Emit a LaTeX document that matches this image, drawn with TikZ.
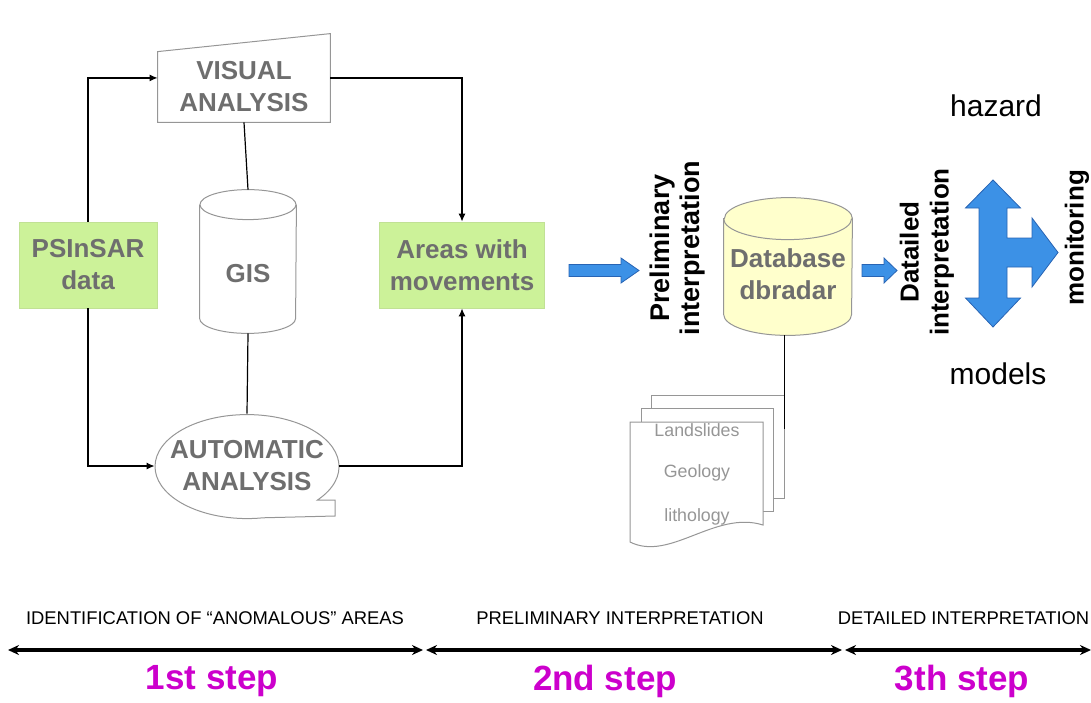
\documentclass[tikz,border=0pt]{standalone}
\usepackage{fontspec}
\setmainfont{Liberation Sans}
\usetikzlibrary{arrows.meta}

\definecolor{boxgreen}{RGB}{204,242,153}
\definecolor{txtgray}{RGB}{110,110,110}
\definecolor{linegray}{RGB}{150,150,150}
\definecolor{pagetxt}{RGB}{150,150,150}
\definecolor{dbyellow}{RGB}{255,255,204}
\definecolor{arrowblue}{RGB}{60,145,230}
\definecolor{arrowedge}{RGB}{40,100,180}
\definecolor{stepmagenta}{RGB}{204,0,204}

\pgfdeclarelayer{background}
\pgfsetlayers{background,main}

\tikzset{
  graylbl/.style={font=\bfseries\fontsize{13}{16}\selectfont,text=txtgray,align=center,inner sep=1pt},
  greenbox/.style={graylbl,rectangle,fill=boxgreen,draw=boxgreen!85!gray},
  outline/.style={draw=linegray,line width=0.5pt},
  link/.style={line width=0.6pt},
  blockarrow/.style={fill=arrowblue,draw=arrowedge,line width=0.4pt}
}

\begin{document}
\begin{tikzpicture}[x=0.5pt,y=0.5pt,>={Latex[length=4pt,width=3.5pt]}]

    \useasboundingbox (0,0) rectangle (1091,-702);

      % first step
      \begin{scope}[every node/.style={graylbl}]
        \node[greenbox,minimum width=69pt,minimum height=43pt] (psinsar) at (88,-265) {PSInSAR\\data};
        \node[greenbox,minimum width=82.5pt,minimum height=43pt] (areas) at (462,-265) {Areas with\\movements};
        \node[minimum width=86pt,minimum height=35pt] (visual) at (244,-87) {VISUAL\\ANALYSIS};
        \node[minimum width=48pt,minimum height=71.5pt] (gis) at (248,-261.5) {\rule{0pt}{21.3pt}GIS};
        \node[minimum width=92pt,minimum height=52pt] (auto) at (247,-466) {AUTOMATIC\\ANALYSIS};
      \end{scope}

      \draw[outline] (visual.south west) -- (visual.south east) -- ([yshift=9pt]visual.north east)
        -- (visual.north west) -- cycle;
      \draw[outline] ([yshift=-7.5pt]gis.north) ellipse[x radius=48,y radius=15];
      \draw[outline] ([yshift=-7.5pt]gis.north west) -- ([yshift=7.5pt]gis.south west)
        arc[start angle=180,end angle=360,x radius=48,y radius=15] -- ([yshift=-7.5pt]gis.north east);
      \draw[outline] ([shift={(88,-34)}]auto.center) -- ++(-17.5,0)
        arc[start angle=-40,end angle=280,x radius=92,y radius=52]
        -- ([shift={(88,-50)}]auto.center) -- cycle;

      \draw[link,->] (psinsar.north) |- (visual.174);
      \draw[link,->] (psinsar.south) |- (auto.west);
      \draw[link,->] (visual.6) -| (areas.north);
      \draw[link,->] (auto.east) -| (areas.south);
      \draw[link] (visual.south) -- (gis.north);
      \draw[link] (gis.south) -- (auto.north);

      % second step
      \draw[blockarrow] (569,-264.5) -- (621,-264.5) -- (621,-258) -- (639,-270.5) -- (621,-283)
        -- (621,-276.5) -- (569,-276.5) -- cycle;
      \node[rotate=90,align=center,font=\bfseries\fontsize{13.5}{15}\selectfont] (prelim) at (678,-248)
        {Preliminary\\interpretation};
      \node[graylbl,minimum width=64pt,minimum height=68.5pt] (db) at (788,-266.5)
        {\rule{0pt}{17pt}Database\\dbradar};
      \begin{pgfonlayer}{background}
        \filldraw[outline,fill=dbyellow] ([yshift=-10.5pt]db.north west) -- ([yshift=10.5pt]db.south west)
          arc[start angle=180,end angle=360,x radius=64,y radius=21] -- ([yshift=-10.5pt]db.north east)
          arc[start angle=0,end angle=180,x radius=64,y radius=21] -- cycle;
        \draw[outline] ([yshift=-10.5pt]db.north west) arc[start angle=180,end angle=360,x radius=64,y radius=21];
      \end{pgfonlayer}

      \begin{scope}[every node/.style={rectangle,outline,fill=white}]
        \node[minimum width=66.5pt,minimum height=51.5pt] (page3) at (717.5,-446.5) {};
        \node[minimum width=66pt,minimum height=51.5pt] (page2) at (707,-459.5) {};
      \end{scope}
      \draw[outline,fill=white] (630,-422) -- (763,-422) -- (763,-525)
        .. controls (715,-510) and (670,-562) .. (630,-542) -- cycle;
      \draw[link] (page3.15) -- (page3.15 |- db.south);

      \begin{scope}[every node/.style={text=pagetxt,font=\fontsize{8.9}{10}\selectfont}]
        \node (landslides) at (697,-430) {Landslides};
        \node (geology) at (697,-473) {Geology};
        \node (lithology) at (697,-517) {lithology};
      \end{scope}

      % third step
      \draw[blockarrow] (862,-264.5) -- (884,-264.5) -- (884,-258) -- (897,-270.5) -- (884,-283)
        -- (884,-276.5) -- (862,-276.5) -- cycle;
      \node[rotate=90,align=center,font=\bfseries\fontsize{13}{15}\selectfont] (detail) at (927,-252)
        {Datailed\\interpretation};
      \draw[blockarrow] (993,-180) -- (1020.5,-208) -- (1007,-208)
        -- (1007,-238) -- (1032,-238) -- (1032,-218) -- (1058,-252.5) -- (1032,-287) -- (1032,-267)
        -- (1007,-267) -- (1007,-298) -- (1020.5,-298) -- (993,-327) -- (965.5,-298) -- (979,-298)
        -- (979,-208) -- (965.5,-208) -- cycle;
      \begin{scope}[every node/.style={font=\fontsize{15}{18}\selectfont}]
        \node (hazard) at (996,-106) {hazard};
        \node (models) at (998,-374) {models};
      \end{scope}
      \node[rotate=90,font=\bfseries\fontsize{13}{15}\selectfont] (monitor) at (1077,-238) {monitoring};

      % steps
      \begin{scope}[every node/.style={font=\fontsize{9.2}{11}\selectfont}]
        \node (phase1) at (215,-618) {IDENTIFICATION OF “ANOMALOUS” AREAS};
        \node (phase2) at (620,-618) {PRELIMINARY INTERPRETATION};
        \node (phase3) at (963.5,-618) {DETAILED INTERPRETATION};
      \end{scope}

      \coordinate (t0) at (8,-650);
      \coordinate (t1) at (423,-650);
      \coordinate (t2) at (426,-650);
      \coordinate (t3) at (842,-650);
      \coordinate (t4) at (845,-650);
      \coordinate (t5) at (1091,-650);
      \begin{scope}[line width=1.6pt,{Stealth[length=5.5pt,width=5pt]}-{Stealth[length=5.5pt,width=5pt]}]
        \draw (t0) -- (t1);
        \draw (t2) -- (t3);
        \draw (t4) -- (t5);
      \end{scope}

      \begin{scope}[every node/.style={text=stepmagenta,font=\bfseries\fontsize{17.5}{20}\selectfont}]
        \node (step1) at (212,-681) {1st step};
        \node (step2) at (605,-681) {2nd step};
        \node (step3) at (962,-681) {3th step};
      \end{scope}

    \end{tikzpicture}
\end{document}
